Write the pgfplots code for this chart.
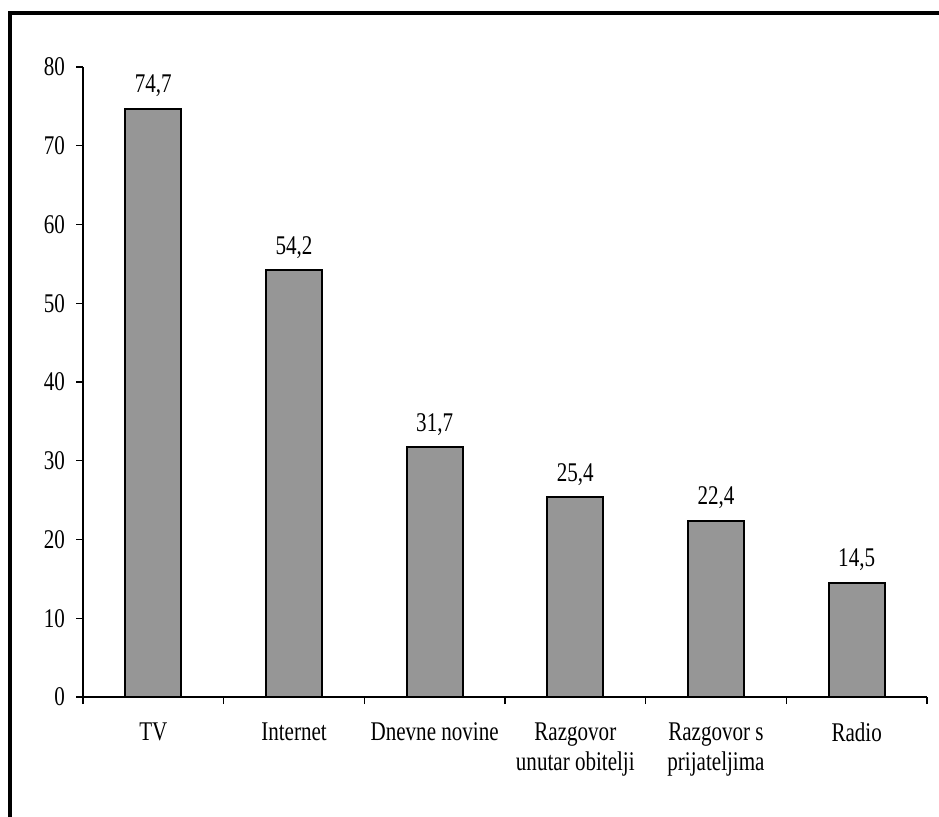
\documentclass[border=0pt]{standalone}
\usepackage{fontspec}
\setmainfont{Liberation Serif}[FakeStretch=0.78]
\usepackage{pgfplots}
\pgfplotsset{compat=1.18}
\begin{document}
\begin{tikzpicture}
\useasboundingbox (0,0) rectangle (469.5pt,408pt);
% frame: only top and left edges fall inside the picture
\draw[line width=2.2pt] (5pt,-20pt) rectangle (490pt,401.5pt);
\begin{axis}[
  scale only axis,
  width=422pt, height=315pt,
  at={(41.5pt,59.5pt)}, anchor=south west,
  xmin=0, xmax=6, ymin=0, ymax=80,
  axis x line*=bottom, axis y line*=left,
  axis line style={line width=0.6pt, -},
  ytick={0,10,...,80},
  xtick={0.5,1.5,...,5.5},
  xticklabels={TV, Internet, Dnevne novine, Razgovor\\unutar obitelji, Razgovor s\\prijateljima, Radio},
  xticklabel style={align=center, yshift=-6pt, font=\fontsize{13.5}{15}\selectfont},
  yticklabel style={xshift=-2pt, font=\fontsize{13.5}{13.5}\selectfont},
  minor xtick={0,1,...,6},
  major x tick style={draw=none},
  tick align=outside,
  tick style={black, line width=0.6pt},
  major tick length=3.5pt, minor tick length=3.5pt,
  /pgf/number format/assume math mode=true,
  ybar, bar width=28pt,
  nodes near coords,
  nodes near coords style={font=\fontsize{13.5}{13.5}\selectfont, yshift=2pt,
    /pgf/number format/.cd, fixed, fixed zerofill, precision=1, use comma},
]
\addplot[fill={rgb,255:red,150;green,150;blue,150}, draw=black, line width=1pt]
  coordinates {(0.5,74.7) (1.5,54.2) (2.5,31.7) (3.5,25.4) (4.5,22.4) (5.5,14.5)};
\end{axis}
\end{tikzpicture}
\end{document}
